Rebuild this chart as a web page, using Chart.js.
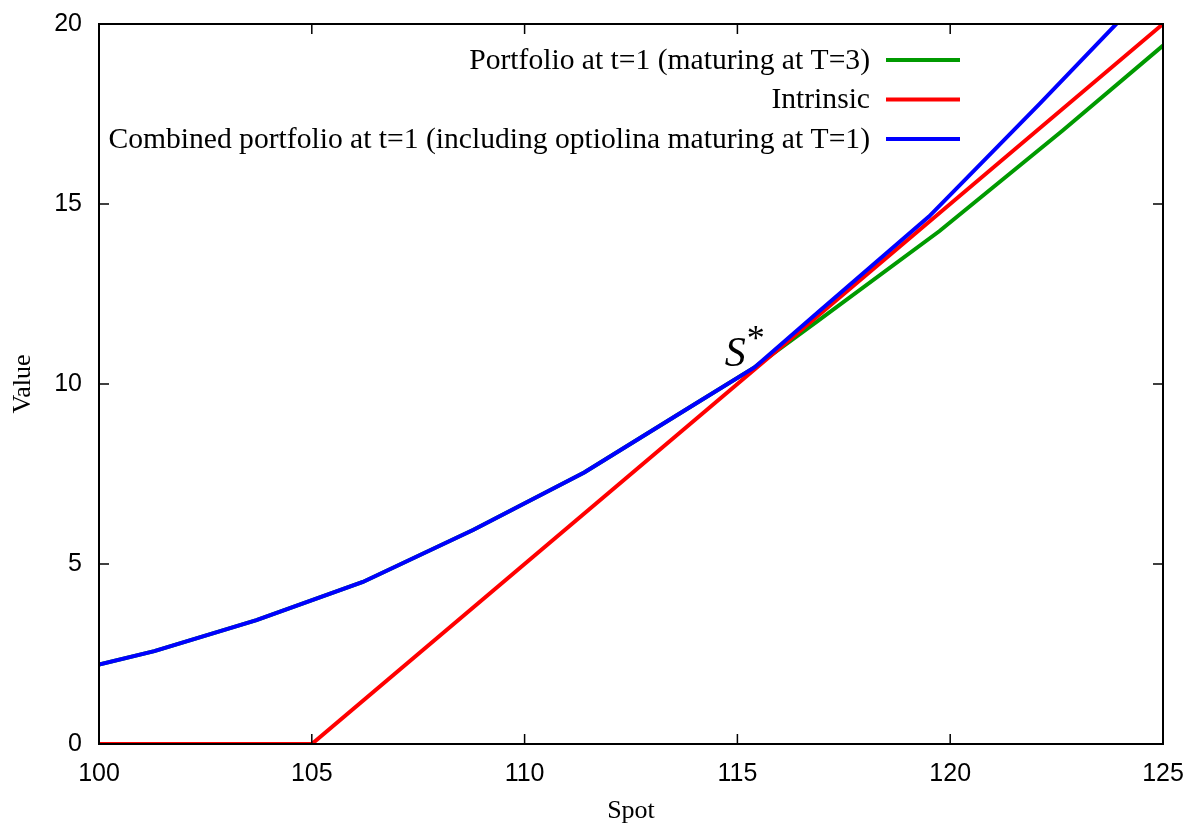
<!DOCTYPE html>
<html lang="en">
<head>
    <meta charset="UTF-8">
    <title>Portfolio value vs spot</title>
    <script src="https://cdn.jsdelivr.net/npm/chart.js"></script>
    <style>
        body {
            margin: 0;
            background-color: #fff;
        }
        #wrap {
            width: 1187px;
            height: 823px;
            position: relative;
        }
    </style>
</head>
<body>
    <div id="wrap"><canvas id="chart"></canvas></div>

    <script>
        // Values
        const portfolioSpot  = [100, 101.3, 103.7, 106.2, 108.8, 111.4, 113.9, 115.4, 116.9, 119.75, 122.65, 125];
        const portfolioValue = [2.21, 2.58, 3.44, 4.50, 5.95, 7.54, 9.37, 10.46, 11.76, 14.25, 17.05, 19.4];

        const intrinsicSpot  = [100, 105, 125];
        const intrinsicValue = [0, 0, 20];

        const combinedSpot  = [100, 101.3, 103.7, 106.2, 108.8, 111.4, 113.9, 115.4, 116.9, 119.5, 122.1, 124.6];
        const combinedValue = [2.21, 2.58, 3.44, 4.50, 5.95, 7.54, 9.37, 10.46, 12.0, 14.65, 17.78, 20.86];

        const seriesLabels = [
            "Portfolio at t=1 (maturing at T=3)",
            "Intrinsic",
            "Combined portfolio at t=1 (including optiolina maturing at T=1)"
        ];
        const seriesColors = ["#009a00", "#ff0000", "#0000ff"];

        const xTicks = [100, 105, 110, 115, 120, 125];
        const yTicks = [0, 5, 10, 15, 20];

        const sStarSpot = 114.7;   // where the S* label sits
        const sStarValue = 10.5;

        function toPoints(xs, ys) {
            return xs.map((x, i) => ({ x: x, y: ys[i] }));
        }

        // frame, inward ticks, legend and S* label (gnuplot look)
        const gnuplotLook = {
            id: 'gnuplotLook',
            afterDatasetsDraw(chart) {
                const ctx = chart.ctx;
                const a = chart.chartArea;
                const xs = chart.scales.x, ys = chart.scales.y;
                const tick = 10;
                ctx.save();
                ctx.strokeStyle = '#000';
                ctx.lineWidth = 2;
                ctx.strokeRect(a.left, a.top, a.right - a.left, a.bottom - a.top);
                ctx.lineWidth = 1.5;
                ctx.beginPath();
                xTicks.forEach(v => {
                    const px = xs.getPixelForValue(v);
                    ctx.moveTo(px, a.bottom); ctx.lineTo(px, a.bottom - tick);
                    ctx.moveTo(px, a.top); ctx.lineTo(px, a.top + tick);
                });
                yTicks.forEach(v => {
                    const py = ys.getPixelForValue(v);
                    ctx.moveTo(a.left, py); ctx.lineTo(a.left + tick, py);
                    ctx.moveTo(a.right, py); ctx.lineTo(a.right - tick, py);
                });
                ctx.stroke();

                // legend: text right aligned, sample line to its right
                ctx.font = '29.6px "Liberation Serif", "Times New Roman", serif';
                ctx.textAlign = 'right';
                ctx.textBaseline = 'middle';
                ctx.fillStyle = '#000';
                seriesLabels.forEach((label, i) => {
                    const y = 60 + i * 39.5;
                    ctx.fillText(label, 870, y + 1);
                    ctx.strokeStyle = seriesColors[i];
                    ctx.lineWidth = 4;
                    ctx.beginPath();
                    ctx.moveTo(886, y);
                    ctx.lineTo(960, y);
                    ctx.stroke();
                });

                // S* label
                const sx = xs.getPixelForValue(sStarSpot);
                const sy = ys.getPixelForValue(sStarValue);
                ctx.textAlign = 'left';
                ctx.textBaseline = 'alphabetic';
                ctx.font = 'italic 42px "Liberation Serif", "Times New Roman", serif';
                ctx.fillText('S', sx, sy);
                const w = ctx.measureText('S').width;
                ctx.font = '36px "Liberation Serif", "Times New Roman", serif';
                ctx.fillText('*', sx + w + 1, sy - 16);
                ctx.restore();
            }
        };

        // blue on top, then red, green underneath
        const drawOrder = [3, 2, 1];

        const datasets = [
            toPoints(portfolioSpot, portfolioValue),
            toPoints(intrinsicSpot, intrinsicValue),
            toPoints(combinedSpot, combinedValue)
        ].map((data, i) => ({
            label: seriesLabels[i],
            data: data,
            order: drawOrder[i],
            borderColor: seriesColors[i],
            backgroundColor: seriesColors[i],
            borderWidth: 4,
            pointRadius: 0,
            tension: 0,
            fill: false
        }));

        new Chart(document.getElementById('chart'), {
            type: 'line',
            data: { datasets: datasets },
            options: {
                responsive: true,
                maintainAspectRatio: false,
                animation: false,
                layout: { padding: { top: 24, right: 24, left: 0, bottom: 0 } },
                plugins: {
                    legend: { display: false },
                    tooltip: { enabled: false }
                },
                scales: {
                    x: {
                        type: 'linear',
                        min: 100,
                        max: 125,
                        afterFit(scale) {
                            scale.height = 79;
                            scale.paddingLeft = 0;
                            scale.paddingRight = 0;
                        },
                        afterBuildTicks(scale) { scale.ticks = xTicks.map(v => ({ value: v })); },
                        grid: { display: false, drawTicks: false },
                        border: { display: false },
                        ticks: {
                            padding: 15,
                            color: '#000',
                            font: { family: '"Liberation Sans", Arial, sans-serif', size: 25 }
                        },
                        title: {
                            display: true,
                            text: 'Spot',
                            color: '#000',
                            padding: 0,
                            font: { family: '"Liberation Serif", "Times New Roman", serif', size: 26, lineHeight: 0.92 }
                        }
                    },
                    y: {
                        min: 0,
                        max: 20,
                        afterFit(scale) {
                            scale.width = 99;
                            scale.paddingTop = 0;
                            scale.paddingBottom = 0;
                        },
                        afterBuildTicks(scale) { scale.ticks = yTicks.map(v => ({ value: v })); },
                        grid: { display: false, drawTicks: false },
                        border: { display: false },
                        ticks: {
                            padding: 17,
                            color: '#000',
                            font: { family: '"Liberation Sans", Arial, sans-serif', size: 25 }
                        },
                        title: {
                            display: true,
                            text: 'Value',
                            color: '#000',
                            padding: { top: 8, bottom: 0 },
                            font: { family: '"Liberation Serif", "Times New Roman", serif', size: 26, lineHeight: 1.2 }
                        }
                    }
                }
            },
            plugins: [gnuplotLook]
        });
    </script>
</body>
</html>
